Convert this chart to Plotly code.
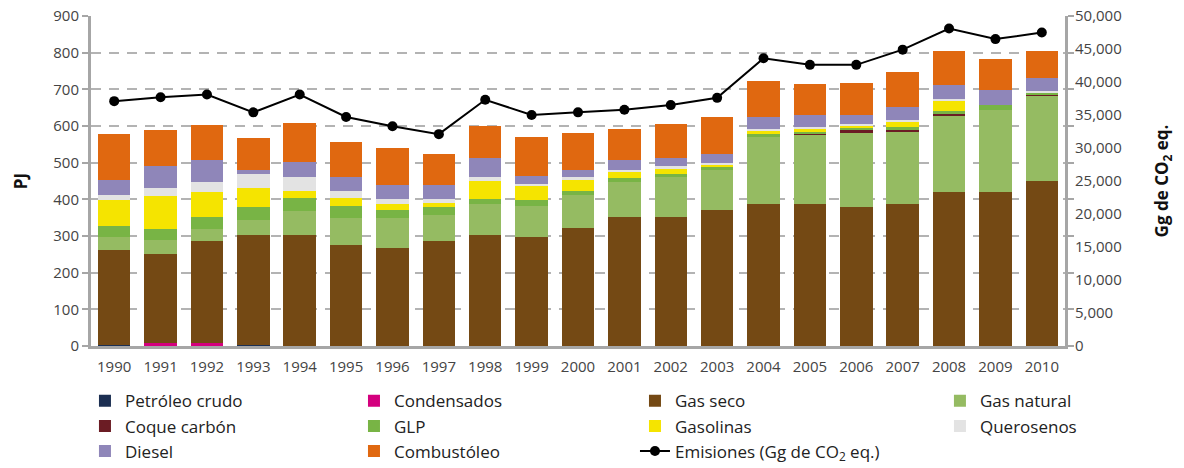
import plotly.graph_objects as go

years = [str(y) for y in range(1990, 2011)]

petroleo_crudo = [2, 2, 2, 2, 0, 1, 0, 0, 0, 0, 0, 0, 0, 0, 0, 0, 0, 0, 0, 0, 0]
condensados    = [0, 5, 5, 0, 0, 0, 0, 0, 0, 0, 0, 0, 0, 0, 0, 0, 0, 0, 0, 0, 0]
gas_seco       = [261, 245, 280, 302, 304, 275, 268, 287, 304, 298, 323, 353, 353, 372, 386, 386, 378, 386, 419, 421, 449]
gas_natural    = [35, 38, 33, 41, 65, 72, 82, 71, 84, 85, 90, 93, 107, 109, 186, 192, 205, 199, 207, 222, 235]
coque_carbon   = [0, 0, 0, 0, 0, 0, 0, 0, 0, 0, 0, 0, 0, 0, 0, 2, 5, 6, 9, 0, 3]
glp            = [28, 30, 33, 35, 36, 33, 22, 20, 14, 14, 11, 11, 8, 9, 5, 5, 6, 5, 5, 14, 5]
gasolinas      = [71, 90, 66, 50, 19, 22, 16, 11, 49, 41, 30, 19, 16, 5, 11, 9, 8, 17, 30, 0, 0]
querosenos     = [16, 22, 27, 38, 38, 19, 14, 11, 11, 5, 6, 5, 6, 3, 3, 2, 3, 3, 3, 0, 3]
diesel         = [40, 60, 60, 11, 39, 39, 38, 38, 52, 22, 21, 25, 22, 27, 33, 33, 24, 35, 38, 41, 35]
combustoleo    = [124, 96, 96, 87, 106, 95, 99, 85, 85, 104, 99, 85, 93, 99, 98, 85, 88, 96, 93, 84, 74]

emisiones = [37100, 37700, 38100, 35400, 38100, 34700, 33300, 32100, 37300, 35000, 35400,
             35800, 36500, 37600, 43600, 42600, 42600, 44900, 48100, 46500, 47500]

# (name, values, colour, legend column)
series = [
    ("Petróleo crudo", petroleo_crudo, "#1c2f52", "legend"),
    ("Condensados", condensados, "#d4007e", "legend2"),
    ("Gas seco", gas_seco, "#744914", "legend3"),
    ("Gas natural", gas_natural, "#95bb62", "legend4"),
    ("Coque carbón", coque_carbon, "#6b1c24", "legend"),
    ("GLP", glp, "#78b445", "legend2"),
    ("Gasolinas", gasolinas, "#f5e400", "legend3"),
    ("Querosenos", querosenos, "#e3e3e3", "legend4"),
    ("Diesel", diesel, "#8f86b9", "legend"),
    ("Combustóleo", combustoleo, "#e06810", "legend2"),
]

fig = go.Figure()
for name, vals, color, lg in series:
    fig.add_trace(go.Bar(x=years, y=vals, name=name, legend=lg,
                         marker=dict(color=color, line=dict(width=0)), width=0.7))

fig.add_trace(go.Scatter(x=years, y=emisiones, name="Emisiones (Gg de CO<sub>2</sub> eq.)",
                         mode="lines+markers", yaxis="y2", legend="legend3",
                         line=dict(color="black", width=2),
                         marker=dict(color="black", size=10)))

axis_font = dict(family="Open Sans", size=15, color="#444")
leg_font = dict(family="Open Sans", size=17, color="#222")
legend_y = -0.113


def leg(x):
    return dict(orientation="v", x=x, xanchor="left", y=legend_y, yanchor="top",
                traceorder="normal", font=leg_font, itemwidth=30, bgcolor="rgba(0,0,0,0)")


fig.update_layout(
    width=1184, height=468,
    barmode="stack", bargap=0.3,
    paper_bgcolor="white", plot_bgcolor="white",
    margin=dict(l=91, r=119, t=16, b=122, autoexpand=False),
    font=dict(family="Open Sans", color="#333"),
    xaxis=dict(type="category", range=[-0.5, 20.5], autorange=False, automargin=False,
               showline=True, linecolor="#a6a6a6", linewidth=3,
               ticks="outside", ticklen=5, tickcolor="rgba(0,0,0,0)",
               tickfont=axis_font, showgrid=False),
    yaxis=dict(range=[0, 900], dtick=100, showline=True, linecolor="#a6a6a6", linewidth=3,
               mirror="ticks", automargin=False,
               ticks="outside", ticklen=6, tickcolor="#a6a6a6", tickwidth=2,
               tickfont=axis_font, showgrid=True, gridcolor="#b3b3b3", griddash="10px,8px",
               gridwidth=1.5, zeroline=False,
               title=dict(text="<b>PJ</b>", font=dict(family="Open Sans", size=17, color="#111"), standoff=22)),
    yaxis2=dict(range=[0, 50000], dtick=5000, overlaying="y", side="right", showline=False,
                automargin=False,
                ticks="outside", ticklen=6, tickcolor="rgba(0,0,0,0)",
                tickwidth=2, tickformat=",", tickfont=axis_font, showgrid=False, zeroline=False,
                title=dict(text="<b>Gg de CO<sub>2</sub> eq.</b>", font=dict(family="Open Sans", size=17, color="#111"),
                           standoff=35)),
    legend=leg(-0.0062),
    legend2=leg(0.27),
    legend3=leg(0.5585),
    legend4=leg(0.8716),
)

fig.write_html("out.html", config={"displayModeBar": False},
               post_script="document.body.style.margin='0';")
